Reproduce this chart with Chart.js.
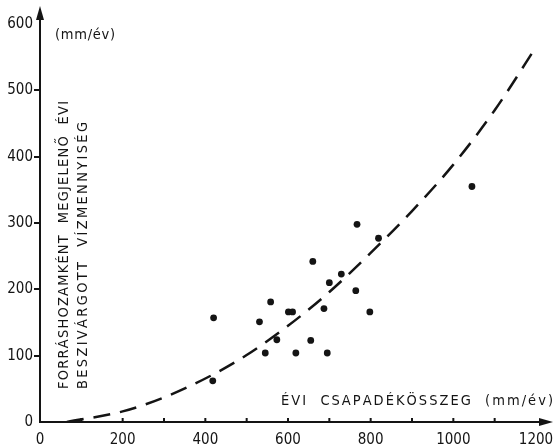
<!DOCTYPE html>
<html><head><meta charset="utf-8">
<script src="https://cdn.jsdelivr.net/npm/chart.js@4.4.1/dist/chart.umd.min.js"></script>
<style>html,body{margin:0;padding:0;background:#fff;overflow:hidden}#wrap{width:559px;height:445px;}</style>
</head><body><div id="wrap"><canvas id="c" width="559" height="445"></canvas></div>
<script>
// ---- data ----
const xTickLabels = [0,200,400,600,800,1000,1200];
const yTickLabels = [0,100,200,300,400,500,600];
const precipX  = [418,420,531,558,545,573,601,611,619,655,660,687,695,700,729,764,798,767,819,1045];
const infiltY  = [ 62,157,151,181,104,124,166,166,104,123,242,171,104,210,223,198,166,298,277,355];
const curveX   = [65,200,300,420,500,600,700,800,900,1000,1100,1210];
const curveY   = [ 0, 16, 37, 72,101,145,196,255,318, 388, 470, 575];
const yTitle1 = 'FORRÁSHOZAMKÉNT  MEGJELENŐ  ÉVI';
const yTitle2 = 'BESZIVÁRGOTT  VÍZMENNYISÉG';
const xTitle  = 'ÉVI  CSAPADÉKÖSSZEG  (mm/év)';
const unitTop = '(mm/év)';

const INK = '#141414';
const FONT_FAMILY = "'DejaVu Sans Condensed','Liberation Sans Narrow','DejaVu Sans',sans-serif";

function drawSpaced(ctx, text, x, y, length) {
  const chars = [...text];
  const widths = chars.map(c => ctx.measureText(c).width);
  const sum = widths.reduce((a,b)=>a+b,0);
  const sp = chars.length > 1 ? (length - sum) / (chars.length - 1) : 0;
  let cx = x;
  chars.forEach((c,i) => { ctx.fillText(c, cx, y); cx += widths[i] + sp; });
}

const decor = {
  id: 'decor',
  afterDraw(chart) {
    const ctx = chart.ctx, xs = chart.scales.x, ys = chart.scales.y;
    const x0 = xs.getPixelForValue(0), y0 = ys.getPixelForValue(0);
    const yTop = ys.getPixelForValue(600), xEnd = xs.getPixelForValue(1200);
    ctx.save();
    ctx.strokeStyle = INK; ctx.fillStyle = INK; ctx.lineWidth = 2;
    // y axis with arrow
    ctx.beginPath(); ctx.moveTo(x0, y0 + 1); ctx.lineTo(x0, yTop - 8); ctx.stroke();
    ctx.beginPath(); ctx.moveTo(x0, yTop - 18); ctx.lineTo(x0 - 4, yTop - 4); ctx.lineTo(x0 + 4, yTop - 4); ctx.closePath(); ctx.fill();
    // x axis with arrow
    ctx.beginPath(); ctx.moveTo(x0 - 1, y0); ctx.lineTo(xEnd + 6, y0); ctx.stroke();
    ctx.beginPath(); ctx.moveTo(xEnd + 17, y0); ctx.lineTo(xEnd + 3, y0 - 4); ctx.lineTo(xEnd + 3, y0 + 4); ctx.closePath(); ctx.fill();
    // x tick marks (small bumps above axis)
    xs.ticks.forEach(t => {
      if (t.value > 0 && t.value < 1200) {
        const px = xs.getPixelForValue(t.value);
        ctx.beginPath(); ctx.moveTo(px, y0); ctx.lineTo(px, y0 - 4); ctx.stroke();
      }
    });
    // texts
    ctx.font = '14.5px ' + FONT_FAMILY;
    ctx.textBaseline = 'alphabetic'; ctx.textAlign = 'left';
    drawSpaced(ctx, unitTop, 55, 39, 60);
    drawSpaced(ctx, xTitle, 281, 405, 272);
    ctx.save();
    ctx.translate(68, 389); ctx.rotate(-Math.PI/2);
    drawSpaced(ctx, yTitle1, 0, 0, 288);
    ctx.restore();
    ctx.save();
    ctx.translate(87, 389); ctx.rotate(-Math.PI/2);
    drawSpaced(ctx, yTitle2, 0, 0, 267);
    ctx.restore();
    ctx.restore();
  }
};

const pts = precipX.map((x,i)=>({x, y: infiltY[i]}));
const curve = curveX.map((x,i)=>({x, y: curveY[i]}));

new Chart(document.getElementById('c'), {
  type: 'scatter',
  data: { datasets: [
    { type: 'line', data: curve, borderColor: INK, borderWidth: 2.5, borderDash: [17,10],
      pointRadius: 0, tension: 0.4, cubicInterpolationMode: 'monotone', fill: false },
    { data: pts, backgroundColor: INK, borderColor: INK, pointRadius: 3.4, borderWidth: 0 }
  ]},
  options: {
    responsive: false, animation: false, devicePixelRatio: 1,
    layout: { padding: { top: 24, right: 23, left: 0, bottom: 0 } },
    plugins: { legend: { display: false }, tooltip: { enabled: false } },
    scales: {
      x: { type: 'linear', min: 0, max: 1200,
        grid: { display: false }, border: { display: false },
        afterBuildTicks: s => { s.ticks = []; for (let v = 0; v <= 1200; v += 100) s.ticks.push({ value: v }); },
        ticks: { autoSkip: false, maxRotation: 0, padding: 1, color: INK,
          font: { size: 15, family: FONT_FAMILY },
          callback: v => xTickLabels.includes(v) ? String(v) : '' },
        afterFit: s => { s.height = 23; } },
      y: { type: 'linear', min: 0, max: 600,
        grid: { display: true, drawOnChartArea: false, tickLength: 6, lineWidth: 2,
          color: c => (c.tick && (c.tick.value === 0 || c.tick.value === 600)) ? 'rgba(0,0,0,0)' : INK },
        border: { display: false },
        afterBuildTicks: s => { s.ticks = yTickLabels.map(v => ({ value: v })); },
        ticks: { padding: 1, color: INK, font: { size: 15, family: FONT_FAMILY } },
        afterFit: s => { s.width = 40; } }
    }
  },
  plugins: [decor]
});
</script></body></html>
